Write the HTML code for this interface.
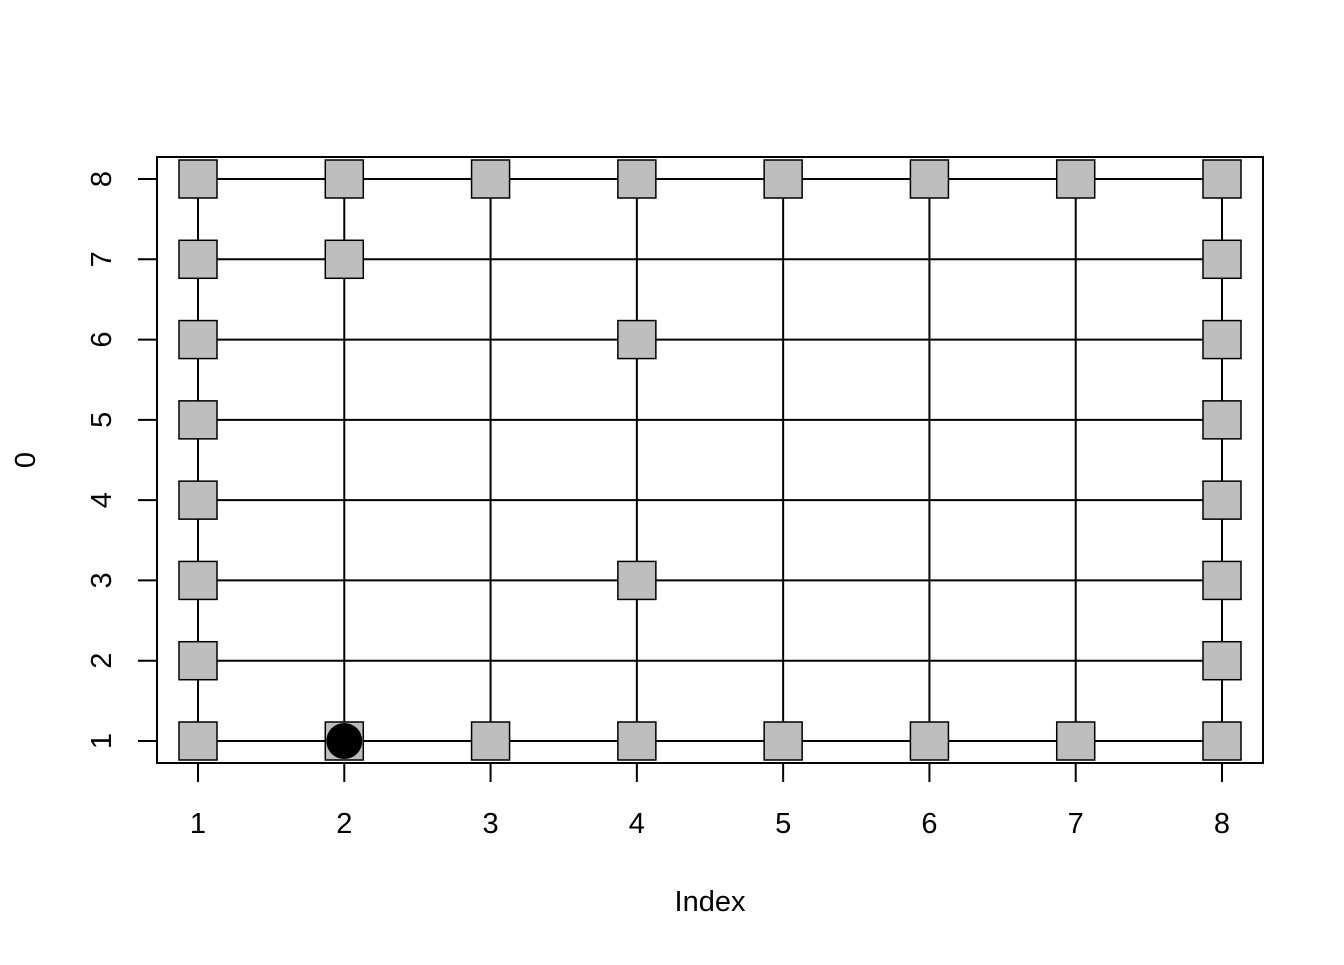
<!DOCTYPE html>
<html><head><meta charset="utf-8"><style>
body{margin:0;background:#fff}
svg text{font-family:"Liberation Sans",Arial,sans-serif;font-size:29px;fill:#000}
</style></head><body>
<svg id="chart" width="1344" height="960" xmlns="http://www.w3.org/2000/svg">
<rect x="0" y="0" width="1344" height="960" fill="#fff"/>
<g id="lines"></g><g id="marks"></g><g id="axes"></g>
</svg>
<script>
const xTicks=[1,2,3,4,5,6,7,8];
const yTicks=[1,2,3,4,5,6,7,8];
const squareX=[1,2,3,4,5,6,7,8, 1,2,3,4,5,6,7,8, 1,1,1,1,1,1, 8,8,8,8,8,8, 2,4,4];
const squareY=[8,8,8,8,8,8,8,8, 1,1,1,1,1,1,1,1, 2,3,4,5,6,7, 2,3,4,5,6,7, 7,6,3];
const circleX=[2];
const circleY=[1];
const NS="http://www.w3.org/2000/svg";
const sx=v=>198+(v-1)*(1222-198)/7;
const sy=v=>741-(v-1)*(741-179)/7;
function mk(tag,attrs,parent){const e=document.createElementNS(NS,tag);for(const k in attrs)e.setAttribute(k,attrs[k]);parent.appendChild(e);return e;}
const L=document.getElementById('lines'),M=document.getElementById('marks'),A=document.getElementById('axes');
yTicks.forEach(v=>{const e=mk('line',{x1:sx(1),x2:sx(8),y1:sy(v),y2:sy(v),stroke:'#000','stroke-width':2},L);

});
xTicks.forEach(v=>{const e=mk('line',{x1:sx(v),x2:sx(v),y1:sy(1),y2:sy(8),stroke:'#000','stroke-width':2},L);

});
squareX.forEach((x,i)=>{const e=mk('rect',{x:sx(x)-19,y:sy(squareY[i])-19,width:38,height:38,fill:'#bebebe',stroke:'#000','stroke-width':1.5},M);

});
circleX.forEach((x,i)=>{const e=mk('circle',{cx:sx(x),cy:sy(circleY[i]),r:18,fill:'#000'},M);

});
const box=mk('rect',{x:157,y:157,width:1106,height:606,fill:'none',stroke:'#000','stroke-width':2},A);


xTicks.forEach(v=>{const t=mk('line',{x1:sx(v),x2:sx(v),y1:763,y2:782,stroke:'#000','stroke-width':2},A);


const l=mk('text',{x:sx(v),y:833,'text-anchor':'middle'},A);l.textContent=v;

});
yTicks.forEach(v=>{const t=mk('line',{x1:138,x2:157,y1:sy(v),y2:sy(v),stroke:'#000','stroke-width':2},A);


const l=mk('text',{x:0,y:0,'text-anchor':'middle',transform:`translate(111,${sy(v)}) rotate(-90)`},A);l.textContent=v;

});
const xt=mk('text',{x:710,y:911,'text-anchor':'middle'},A);xt.textContent='Index';


const yt=mk('text',{x:0,y:0,'text-anchor':'middle',transform:'translate(35,460) rotate(-90)'},A);yt.textContent='0';


</script>
</body></html>
